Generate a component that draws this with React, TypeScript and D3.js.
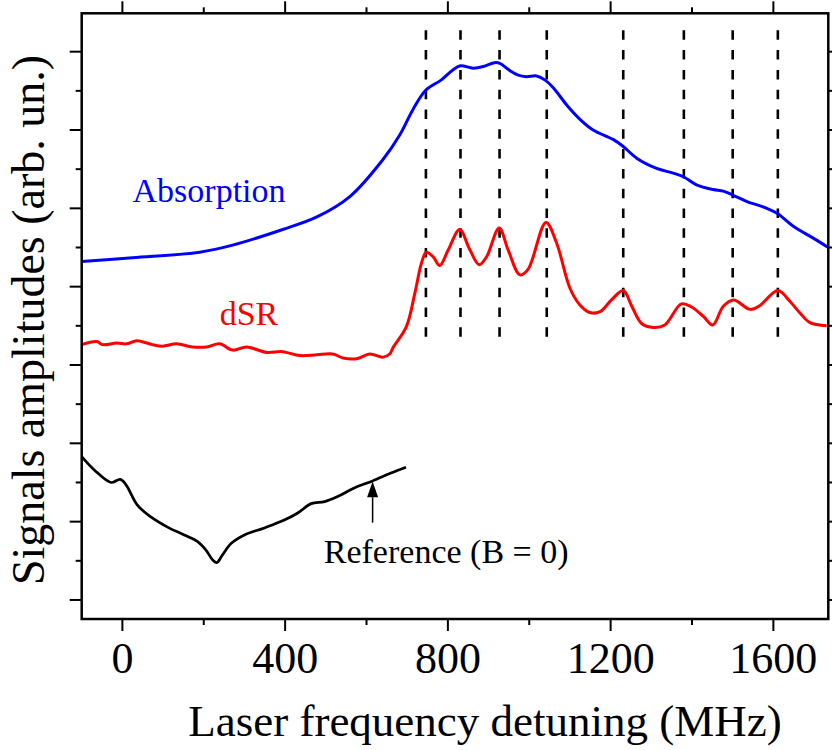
import React from "react";
import * as d3 from "d3";

// ---- data (x: MHz, y: arbitrary units) ----
const absorption: [number, number][] = [
  [-100, 4.32], [25, 4.37], [190, 4.44], [271, 4.53], [394, 4.73], [478, 4.89],
  [559, 5.15], [640, 5.62], [682, 5.94], [714, 6.26], [746, 6.51], [784, 6.64],
  [813, 6.77], [831, 6.82], [862, 6.79], [887, 6.81], [915, 6.86], [928, 6.85],
  [952, 6.76], [973, 6.70], [993, 6.68], [1018, 6.69], [1038, 6.64], [1059, 6.54],
  [1092, 6.32], [1124, 6.14], [1157, 6.0], [1206, 5.88], [1231, 5.79], [1264, 5.64],
  [1313, 5.51], [1354, 5.45], [1380, 5.40], [1411, 5.30], [1452, 5.24], [1477, 5.22],
  [1500, 5.17], [1534, 5.09], [1584, 5.0], [1611, 4.93], [1649, 4.77], [1698, 4.62],
  [1735, 4.50],
];

const dsr: [number, number][] = [
  [-100, 3.26], [-63, 3.30], [-49, 3.26], [-14, 3.28], [10, 3.27], [35, 3.31],
  [60, 3.28], [74, 3.26], [99, 3.24], [133, 3.27], [172, 3.23], [207, 3.23],
  [239, 3.27], [271, 3.19], [305, 3.23], [355, 3.16], [394, 3.17], [436, 3.12],
  [478, 3.13], [517, 3.14], [542, 3.09], [576, 3.08], [608, 3.14], [640, 3.10],
  [657, 3.14], [665, 3.22], [698, 3.49], [719, 3.92], [735, 4.30], [747, 4.44],
  [764, 4.38], [780, 4.27], [801, 4.47], [829, 4.73], [854, 4.47], [877, 4.28],
  [895, 4.38], [926, 4.75], [948, 4.47], [977, 4.15], [997, 4.22], [1041, 4.82],
  [1067, 4.56], [1100, 3.98], [1124, 3.77], [1149, 3.67], [1174, 3.68], [1202, 3.83],
  [1231, 3.95], [1252, 3.75], [1276, 3.53], [1305, 3.48], [1333, 3.51], [1374, 3.78],
  [1399, 3.74], [1428, 3.62], [1451, 3.51], [1477, 3.75], [1502, 3.83], [1543, 3.71],
  [1567, 3.76], [1611, 3.95], [1641, 3.81], [1666, 3.66], [1690, 3.54], [1731, 3.50],
];

const reference: [number, number][] = [
  [-100, 1.83], [-69, 1.66], [-28, 1.50], [-5, 1.54], [9, 1.47], [37, 1.21],
  [70, 1.06], [111, 0.93], [152, 0.83], [185, 0.745], [205, 0.64], [222, 0.51],
  [232, 0.476], [246, 0.575], [267, 0.72], [300, 0.83], [349, 0.92], [398, 1.02],
  [431, 1.11], [464, 1.23], [497, 1.255], [529, 1.32], [570, 1.43], [615, 1.52],
  [660, 1.62], [697, 1.695],
];

const resonances = [746, 831, 927, 1043, 1231, 1380, 1500, 1611];

const xMajorTicks = [0, 400, 800, 1200, 1600];
const xMinorTicks = [200, 600, 1000, 1400];
const yMajorTicks = [0, 1, 2, 3, 4, 5, 6, 7];
const yMinorTicks = [0.5, 1.5, 2.5, 3.5, 4.5, 5.5, 6.5];

const xDomain: [number, number] = [-100, 1735];
const yDomain: [number, number] = [-0.243, 7.49];
const dashTop = 7.273;
const dashBottom = 3.352;

const xLabel = "Laser frequency detuning (MHz)";
const yLabel = "Signals amplitudes (arb. un.)";
const absorptionLabel = { text: "Absorption", x: 25, y: 5.087 };
const dsrLabel = { text: "dSR", x: 239, y: 3.512 };
const referenceLabel = { text: "Reference (B = 0)", x: 495, y: 0.476 };
const arrow = { x: 615, tip: 1.511, base: 1.312, tail: 0.987 };

const W = 832;
const H = 750;
const left = 81.7;
const right = 828.3;
const top = 13.3;
const bottom = 619;
const FONT = "'Liberation Serif', 'Times New Roman', Times, serif";

export default function App() {
  const x = d3.scaleLinear().domain(xDomain).range([left, right]);
  const y = d3.scaleLinear().domain(yDomain).range([bottom, top]);

  const line = d3
    .line<[number, number]>()
    .x((d) => x(d[0]))
    .y((d) => y(d[1]))
    .curve(d3.curveCatmullRom.alpha(0.5));

  const axisColor = "#000";
  const major = 12;
  const minor = 6;

  return (
    <svg
      width={W}
      height={H}
      viewBox={`0 0 ${W} ${H}`}
      style={{ position: "absolute", left: 0, top: 0, background: "#fff" }}
    >
      <rect x={0} y={0} width={W} height={H} fill="#fff" />

      {/* dashed resonance lines */}
      {resonances.map((r) => (
        <line
          key={"r" + r}
          x1={x(r)}
          x2={x(r)}
          y1={y(dashTop)}
          y2={y(dashBottom)}
          stroke="#000"
          strokeWidth={2.6}
          strokeDasharray="9.5,10.3"
        />
      ))}

      {/* curves */}
      <path d={line(absorption) || ""} fill="none" stroke="#0000ff" strokeWidth={3} strokeLinejoin="round" />
      <path d={line(dsr) || ""} fill="none" stroke="#ff0000" strokeWidth={3} strokeLinejoin="round" />
      <path d={line(reference) || ""} fill="none" stroke="#000" strokeWidth={2.7} strokeLinejoin="round" />

      {/* arrow */}
      <line x1={x(arrow.x)} x2={x(arrow.x)} y1={y(arrow.tail)} y2={y(arrow.base)} stroke="#000" strokeWidth={1.5} />
      <polygon
        points={`${x(arrow.x)},${y(arrow.tip)} ${x(arrow.x) - 5.5},${y(arrow.base)} ${x(arrow.x) + 5.5},${y(arrow.base)}`}
        fill="#000"
      />

      {/* annotations */}
      <text x={x(absorptionLabel.x)} y={y(absorptionLabel.y)} fontFamily={FONT} fontSize={34} fill="#0000ff">
        {absorptionLabel.text}
      </text>
      <text x={x(dsrLabel.x)} y={y(dsrLabel.y)} fontFamily={FONT} fontSize={34} fill="#ff0000">
        {dsrLabel.text}
      </text>
      <text x={x(referenceLabel.x)} y={y(referenceLabel.y)} fontFamily={FONT} fontSize={34} fill="#000">
        {referenceLabel.text}
      </text>

      {/* ticks: bottom & top */}
      {xMajorTicks.map((t) => (
        <g key={"xm" + t}>
          <line x1={x(t)} x2={x(t)} y1={bottom} y2={bottom + major} stroke={axisColor} strokeWidth={2} />
          <line x1={x(t)} x2={x(t)} y1={top} y2={top - major} stroke={axisColor} strokeWidth={2} />
          <text x={x(t)} y={673} textAnchor="middle" fontFamily={FONT} fontSize={44} fill="#000">
            {t}
          </text>
        </g>
      ))}
      {xMinorTicks.map((t) => (
        <g key={"xn" + t}>
          <line x1={x(t)} x2={x(t)} y1={bottom} y2={bottom + minor} stroke={axisColor} strokeWidth={2} />
          <line x1={x(t)} x2={x(t)} y1={top} y2={top - minor} stroke={axisColor} strokeWidth={2} />
        </g>
      ))}

      {/* ticks: left & right */}
      {yMajorTicks.map((t) => (
        <g key={"ym" + t}>
          <line x1={left} x2={left - major} y1={y(t)} y2={y(t)} stroke={axisColor} strokeWidth={2} />
          <line x1={right} x2={right + major} y1={y(t)} y2={y(t)} stroke={axisColor} strokeWidth={2} />
        </g>
      ))}
      {yMinorTicks.map((t) => (
        <g key={"yn" + t}>
          <line x1={left} x2={left - minor} y1={y(t)} y2={y(t)} stroke={axisColor} strokeWidth={2} />
          <line x1={right} x2={right + minor} y1={y(t)} y2={y(t)} stroke={axisColor} strokeWidth={2} />
        </g>
      ))}

      {/* frame */}
      <rect
        x={left}
        y={top}
        width={right - left}
        height={bottom - top}
        fill="none"
        stroke={axisColor}
        strokeWidth={2.5}
      />

      {/* axis labels */}
      <text x={485} y={736} textAnchor="middle" fontFamily={FONT} fontSize={45} fill="#000">
        {xLabel}
      </text>
      <text
        transform={`translate(43.5,320) rotate(-90)`}
        textAnchor="middle"
        fontFamily={FONT}
        fontSize={46}
        fill="#000"
      >
        {yLabel}
      </text>
    </svg>
  );
}
